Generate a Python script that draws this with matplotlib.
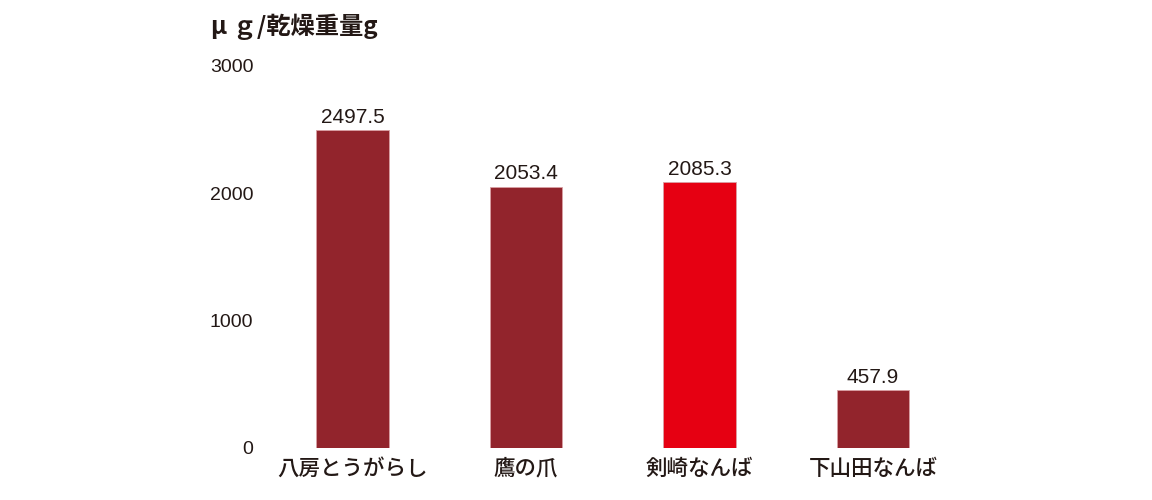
import matplotlib
matplotlib.use("Agg")
import matplotlib.pyplot as plt

# data
varieties = ["八房とうがらし", "鷹の爪", "剣崎なんば", "下山田なんば"]
amounts = [2497.5, 2053.4, 2085.3, 457.9]
bar_labels = ["2497.5", "2053.4", "2085.3", "457.9"]
yticks = [0, 1000, 2000, 3000]

dark = "#92242c"
bright = "#e60012"
ink = "#231815"
colors = [dark, dark, bright, dark]

jp = ["Noto Sans CJK JP", "DejaVu Sans"]
narrow = ["Liberation Sans Narrow", "Liberation Sans", "DejaVu Sans"]

fig = plt.figure(figsize=(11.52, 5), dpi=100)
ax = fig.add_axes([265.75 / 1152, 52 / 500, 694 / 1152, 382 / 500])

x = range(len(varieties))
bars = ax.bar(x, amounts, width=0.42, color=colors, edgecolor="#d9a0a4", linewidth=0.6)

for xi, v, lab in zip(x, amounts, bar_labels):
    ax.text(xi, v + 25, lab, ha="center", va="bottom", fontsize=15,
            family=narrow, color=ink)

ax.set_xlim(-0.5, 3.5)
ax.set_ylim(0, 3000)
ax.set_yticks(yticks)
ax.set_yticklabels([str(t) for t in yticks], family=narrow, fontsize=14, color=ink)
ax.set_xticks(list(x))
ax.set_xticklabels(varieties, family=jp, fontsize=15.5, color=ink, fontweight="medium")
ax.tick_params(axis="y", length=0, pad=9)
ax.tick_params(axis="x", length=0, pad=7)
for s in ax.spines.values():
    s.set_visible(False)

fig.text(211 / 1152, 1 - 27 / 500, "μ ｇ/乾燥重量g", family=jp, fontsize=17.5,
         color=ink, ha="left", va="center", fontweight="bold")

fig.savefig("out.png", dpi=100)
